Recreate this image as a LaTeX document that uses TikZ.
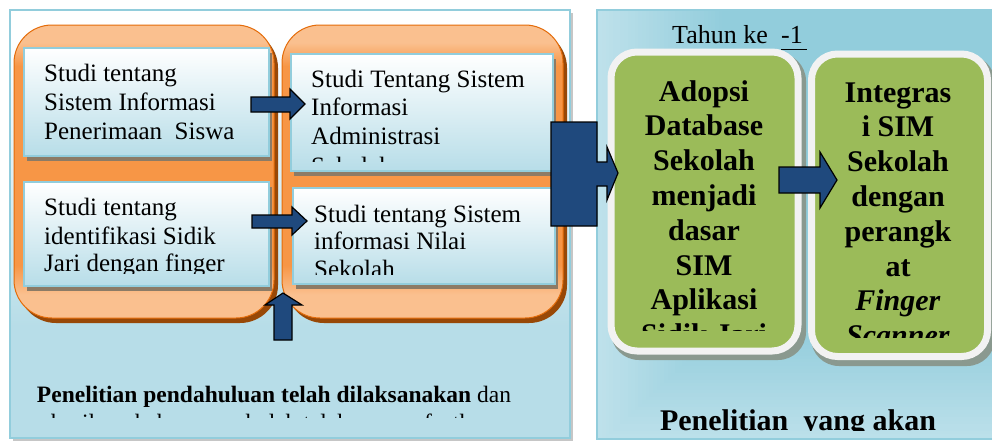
\documentclass[tikz,border=0pt]{standalone}
\usepackage{fontspec}
\setmainfont{Liberation Serif}
\definecolor{panelblue}{HTML}{B7DDE8}
\definecolor{panelline}{HTML}{92CDDC}
\definecolor{lightor}{HTML}{FAC08F}
\definecolor{midor}{HTML}{F79646}
\definecolor{orline}{HTML}{E46C0A}
\definecolor{orshadow}{HTML}{984807}
\definecolor{boxshadow}{HTML}{8C7B66}
\definecolor{arrowblue}{HTML}{1F497D}
\definecolor{leafgreen}{HTML}{9BBB59}
\definecolor{rimwhite}{HTML}{F2F2F2}
\definecolor{greenshadow}{HTML}{8A998F}
\definecolor{skylight}{HTML}{DDEFF5}
\definecolor{skydark}{HTML}{92CDDC}
% fills (the middle 25bp--75bp band maps onto the shaded path)
\pgfdeclareverticalshading{orangefill}{100bp}{color(0bp)=(lightor); color(25bp)=(lightor); color(29bp)=(lightor); color(34bp)=(midor); color(68bp)=(midor); color(72bp)=(lightor); color(100bp)=(lightor)}
\pgfdeclareverticalshading{leftpanelfill}{100bp}{color(0bp)=(panelblue); color(38bp)=(panelblue); color(72bp)=(white); color(100bp)=(white)}
\begin{document}
\begin{tikzpicture}[x=1pt,y=-1pt,
  panelrim/.style={draw=panelline, line width=2.5pt},
  orangebox/.style={shade, shading=orangefill, draw=orline, line width=1pt, rounded corners=38pt},
  orangeshade/.style={fill=orshadow, rounded corners=38pt},
  studybox/.style={draw=panelline, line width=1.5pt, top color=white, bottom color=panelblue},
  studyshade/.style={fill=boxshadow},
  studytext/.style={anchor=base west, inner sep=0pt, font=\fontsize{25}{29}\selectfont, text=black},
  goalbox/.style={fill=leafgreen, draw=rimwhite, line width=7pt, rounded corners=26pt},
  goalshade/.style={fill=greenshadow, rounded corners=28pt},
  goaltext/.style={anchor=base, inner sep=0pt, font=\fontsize{30}{35}\selectfont\bfseries, text=black},
  notetext/.style={anchor=base, inner sep=0pt, text=black},
  yeartext/.style={anchor=base west, inner sep=0pt, font=\fontsize{26}{30}\selectfont, text=black},
  blockarrow/.style={fill=arrowblue, draw=black, line width=1.2pt, line join=miter},
]
\clip (0,0) rectangle (992,442);
\fill[white] (0,0) rectangle (992,442);

% ---- left panel: earlier studies
\fill[gray!45] (13,13) rectangle (573,441);
\path[shade, shading=leftpanelfill, panelrim] (10,10) rectangle (570,438);

% ---- right panel: planned research
% diagonal sky gradient, light along the top-left/bottom-right diagonal
\begin{scope}
  \clip (597,10) rectangle (1000,439);
  \begin{scope}[shift={(798.5,224.5)}, x={(0.7289pt,0.6847pt)}, y={(0.6847pt,-0.7289pt)}]
    \foreach \s in {-310,-305,...,305}{
      \pgfmathtruncatemacro\mixpct{min(100,abs(\s+2.5)/290*100)}
      \fill[skydark!\mixpct!skylight] (\s,-420) rectangle ({\s+5.6},420);
    }
  \end{scope}
\end{scope}
\draw[panelrim] (597,10) rectangle (1000,439);

% orange groups
\fill[orangeshade] (18,30) rectangle (278,323);
\path[orangebox] (14,25) rectangle (274,318);
\fill[orangeshade] (286,30) rectangle (567,323);
\path[orangebox] (282,25) rectangle (563,318);

% study boxes
\fill[studyshade] (27,53) rectangle (272,161);
\path[studybox] (24,48) rectangle (269,156);
\fill[studyshade] (294,59) rectangle (556,176);
\path[studybox] (291,54) rectangle (553,171);
\fill[studyshade] (27,187) rectangle (272,291);
\path[studybox] (24,182) rectangle (269,286);
\fill[studyshade] (296,193) rectangle (558,289);
\path[studybox] (293,188) rectangle (555,284);

% study texts
\node[studytext] (s1a) at (44,81)  {Studi tentang};
\node[studytext] (s1b) at (44,110) {Sistem Informasi};
\node[studytext] (s1c) at (44,139) {Penerimaan\ \ Siswa};
\begin{scope}
  \clip (292,56) rectangle (552,161);
  \node[studytext] (s2a) at (311,87)  {Studi Tentang Sistem};
  \node[studytext] (s2b) at (311,115) {Informasi};
  \node[studytext] (s2c) at (311,144) {Administrasi};
  \node[studytext] (s2d) at (311,174) {Sekolah};
\end{scope}
\begin{scope}
  \clip (25,184) rectangle (268,273);
  \node[studytext] (s3a) at (44,215) {Studi tentang};
  \node[studytext] (s3b) at (44,244) {identifikasi Sidik};
  \node[studytext] (s3c) at (44,271) {Jari dengan finger};
\end{scope}
\begin{scope}
  \clip (294,190) rectangle (554,274);
  \node[studytext] (s4a) at (314,222) {Studi tentang Sistem};
  \node[studytext] (s4b) at (314,249) {informasi Nilai};
  \node[studytext] (s4c) at (314,277) {Sekolah};
\end{scope}

% small block arrows
\draw[blockarrow] (251,97) -- (290,97) -- (290,89) -- (305,104) -- (290,119) -- (290,112) -- (251,112) -- cycle;
\draw[blockarrow] (252,215) -- (292,215) -- (292,207) -- (307,221) -- (292,235) -- (292,228) -- (252,228) -- cycle;
\draw[blockarrow] (274,340) -- (274,305) -- (265,305) -- (283,293) -- (302,305) -- (292,305) -- (292,340) -- cycle;

% left panel caption
\begin{scope}
  \clip (12,380) rectangle (568,417);
  \node[notetext, font=\fontsize{23.5}{27}\selectfont] (lead1) at (274,402) {\textbf{Penelitian pendahuluan telah dilaksanakan} dan};
  \node[notetext, font=\fontsize{23.5}{27}\selectfont] (lead2) at (272,430) {hasilnya beberapa sekolah telah memanfaatkan};
\end{scope}

% year label
\node[yeartext] (yearword) at (672,43) {Tahun ke};
\node[yeartext] (yearno) at (781,43) {-1};
\draw[line width=1pt] ([yshift=-6pt]yearno.base west) -- ([yshift=-6pt,xshift=26pt]yearno.base west);

% goal boxes
\fill[goalshade] (611,53) rectangle (806,360);
\path[goalbox] (611,52) rectangle (798,351);
\fill[goalshade] (811,55) rectangle (995,366);
\path[goalbox] (811.5,54) rectangle (987.5,356.5);

\begin{scope}
  \clip (615,56) rectangle (795,330);
  \foreach \t [count=\i] in {Adopsi, Database, Sekolah, menjadi, dasar, SIM, Aplikasi, Sidik Jari}
    \node[goaltext] (ga\i) at (704,{101+34.8*(\i-1)}) {\t};
\end{scope}
\begin{scope}
  \clip (815,58) rectangle (984,337);
  \foreach \t [count=\i] in {Integras, i SIM, Sekolah, dengan, perangk, at, \textit{Finger}, \textit{Scanner}}
    \node[goaltext] (gb\i) at (898,{102+34.8*(\i-1)}) {\t};
\end{scope}

% arrow between the goal boxes
\draw[blockarrow] (779,167) -- (820,167) -- (820,152) -- (837,180) -- (820,208) -- (820,193) -- (779,193) -- cycle;

% right panel caption
\begin{scope}
  \clip (600,395) rectangle (990,430.5);
  \node[notetext, font=\fontsize{30}{35}\selectfont\bfseries] (plan) at (798,430) {Penelitian\ \ yang akan};
\end{scope}

% big block arrow from studies to research
\draw[blockarrow] (551,122) -- (597,122) -- (597,162) -- (607,162) -- (607,147) -- (618,173) -- (607,200) -- (607,186) -- (597,186) -- (597,226) -- (551,226) -- cycle;
\end{tikzpicture}
\end{document}
